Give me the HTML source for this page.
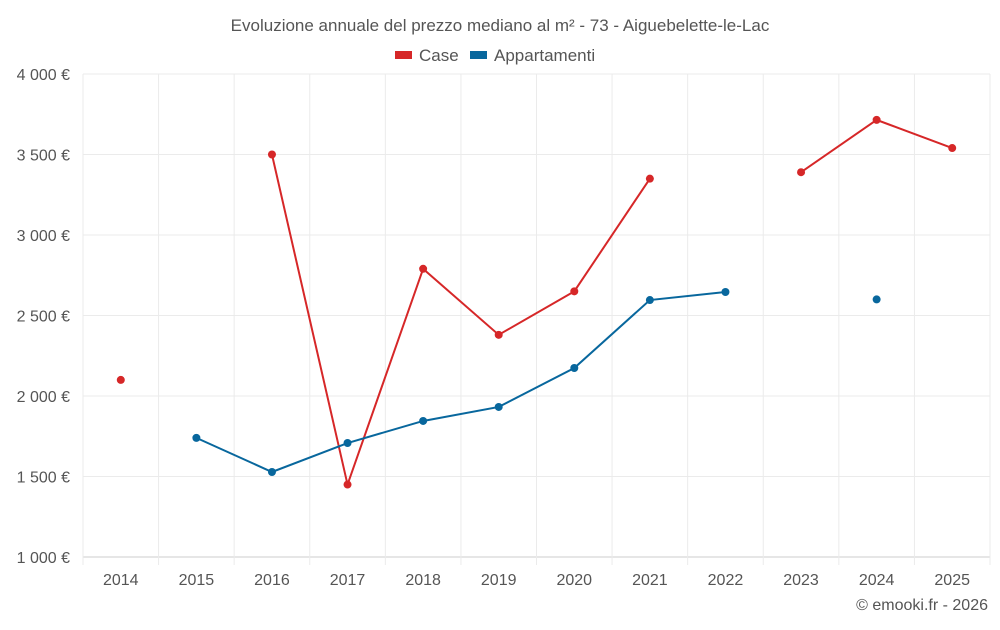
<!DOCTYPE html>
<html><head><meta charset="utf-8"><style>
body{margin:0;background:#fff;font-family:"Liberation Sans",sans-serif}
svg text{font-family:"Liberation Sans",sans-serif;fill:#555}
</style></head><body>
<svg width="1000" height="625" id="c">
<text x="500" y="31" text-anchor="middle" font-size="17">Evoluzione annuale del prezzo mediano al m² - 73 - Aiguebelette-le-Lac</text>
<g>
<g><rect x="395" y="51" width="17" height="8" fill="#d62728"/><text x="419" y="61" font-size="17">Case</text></g>
<g><rect x="470" y="51" width="17" height="8" fill="#08679d"/><text x="494" y="61" font-size="17">Appartamenti</text></g>
</g>
<g id="grid"></g><g id="axes"></g><g id="marks"></g>
<text x="988" y="610" text-anchor="end" font-size="16">© emooki.fr - 2026</text>
</svg>
<script>
const years=[2014,2015,2016,2017,2018,2019,2020,2021,2022,2023,2024,2025];
const caseVals=[2100,null,3500,1450,2790,2380,2650,3350,null,3390,3715,3540];
const aptVals=[null,1740,1528,1708,1845,1932,2174,2596,2646,null,2600,null];
const yTicks=[1000,1500,2000,2500,3000,3500,4000];
const tickLabels=["1 000 €","1 500 €","2 000 €","2 500 €","3 000 €","3 500 €","4 000 €"];
const L=83,R=990,T=74,B=557,ymin=1000,ymax=4000;
const bw=(R-L)/years.length;
const xs=i=>L+bw*(i+0.5);
const ys=v=>B-(v-ymin)/(ymax-ymin)*(B-T);
const NS="http://www.w3.org/2000/svg";
function mk(tag,parent,attrs){const e=document.createElementNS(NS,tag);for(const k in attrs)e.setAttribute(k,attrs[k]);document.getElementById(parent).appendChild(e);return e;}
yTicks.forEach((v,i)=>{
 const g=mk('line','grid',{x1:L,x2:R,y1:ys(v),y2:ys(v),stroke:i==0?'#ccc':'#ebebeb'});
 
 
 const t=mk('text','axes',{x:70,y:ys(v)+6,'text-anchor':'end','font-size':16});
 t.textContent=tickLabels[i];
 
 
});
for(let i=0;i<=years.length;i++){
 const g=mk('line','grid',{x1:L+bw*i,x2:L+bw*i,y1:T,y2:B+(i<years.length+1?8:0),stroke:'#ebebeb'});
 
 
}
years.forEach((y,i)=>{
 const t=mk('text','axes',{x:xs(i),y:585,'text-anchor':'middle','font-size':16});
 t.textContent=y;
 
 
});
function series(vals,color,name){
 let seg=[];
 const flush=()=>{if(seg.length>1){const p=mk('polyline','marks',{points:seg.join(' '),fill:'none',stroke:color,'stroke-width':2});
  
  }seg=[];};
 vals.forEach((v,i)=>{if(v==null){flush();return;}seg.push(xs(i)+','+ys(v));});
 flush();
 vals.forEach((v,i)=>{if(v==null)return;
  const c=mk('circle','marks',{cx:xs(i),cy:ys(v),r:4,fill:color});
  
  });
}
series(caseVals,'#d62728','case');
series(aptVals,'#08679d','appartamenti');
</script>
</body></html>
